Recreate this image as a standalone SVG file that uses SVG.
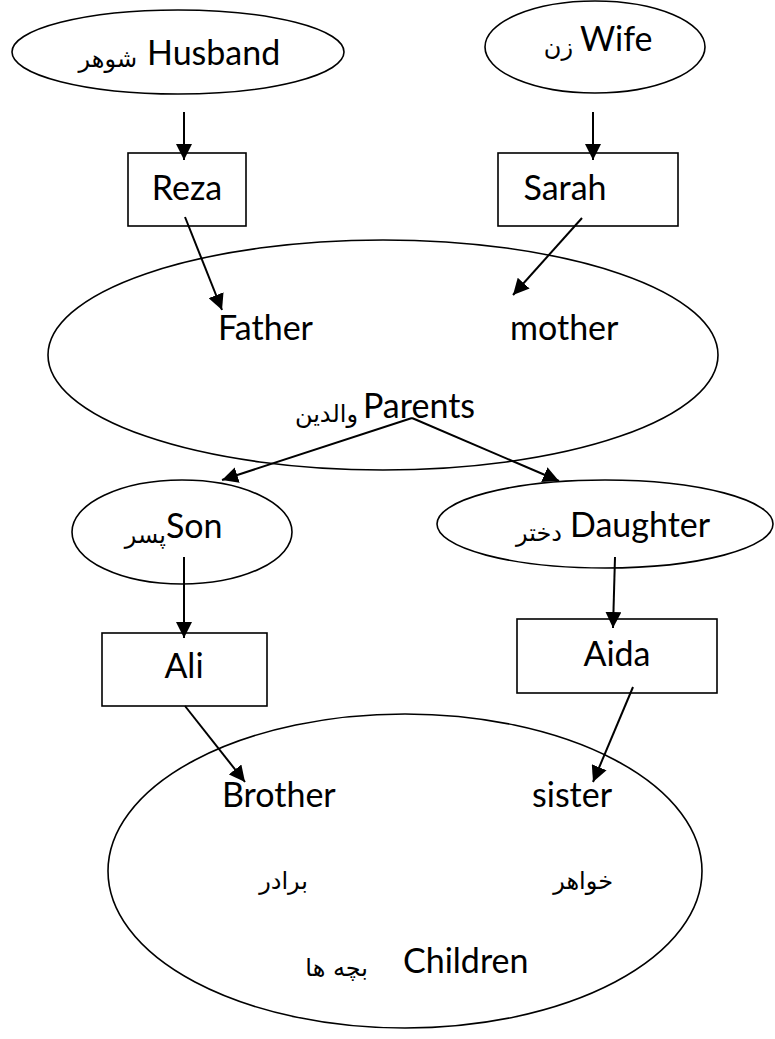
<svg xmlns="http://www.w3.org/2000/svg" width="775" height="1039" viewBox="0 0 775 1039">
<style>
.shape{fill:none;stroke:#000;stroke-width:1.6}
.en{font-family:Lato,"Open Sans","DejaVu Sans",sans-serif;font-size:34px;fill:#000}
.ar{font-family:"DejaVu Sans",sans-serif;font-size:24px;fill:#000}
.conn line{stroke:#000;stroke-width:2}
</style>
<defs>
<marker id="ah" markerUnits="userSpaceOnUse" markerWidth="16" markerHeight="16" viewBox="0 0 16 16" refX="16" refY="8" orient="auto">
<path d="M0,0 L16,8 L0,16 z" fill="#000"/>
</marker>
</defs>
<rect width="775" height="1039" fill="#fff"/>
<g id="husband">
<ellipse class="shape" cx="178" cy="52" rx="166" ry="42"/>
<text class="ar" x="137" y="67" text-anchor="end">شوهر</text>
<text class="en" x="147" y="65">Husband</text>
</g>
<g id="wife">
<ellipse class="shape" cx="595" cy="47" rx="110" ry="46"/>
<text class="ar" x="573" y="55" text-anchor="end">زن</text>
<text class="en" x="580" y="51">Wife</text>
</g>
<g id="reza">
<rect class="shape" x="128" y="153" width="118" height="73"/>
<text class="en" x="187" y="200" text-anchor="middle">Reza</text>
</g>
<g id="sarah">
<rect class="shape" x="498" y="153" width="180" height="73"/>
<text class="en" x="565" y="200" text-anchor="middle">Sarah</text>
</g>
<g id="parents">
<ellipse class="shape" cx="383" cy="355" rx="335" ry="115"/>
<text class="en" x="218" y="340">Father</text>
<text class="en" x="510" y="340">mother</text>
<text class="ar" x="358" y="422" text-anchor="end">والدين</text>
<text class="en" x="363" y="418">Parents</text>
</g>
<g id="son">
<ellipse class="shape" cx="182" cy="532" rx="110" ry="52"/>
<text class="ar" x="166" y="543" text-anchor="end">پسر</text>
<text class="en" x="166" y="538">Son</text>
</g>
<g id="daughter">
<ellipse class="shape" cx="605" cy="524" rx="168" ry="44"/>
<text class="ar" x="562" y="541" text-anchor="end">دختر</text>
<text class="en" x="570" y="537">Daughter</text>
</g>
<g id="ali">
<rect class="shape" x="102" y="633" width="165" height="73"/>
<text class="en" x="184" y="678" text-anchor="middle">Ali</text>
</g>
<g id="aida">
<rect class="shape" x="517" y="619" width="200" height="74"/>
<text class="en" x="617" y="666" text-anchor="middle">Aida</text>
</g>
<g id="children">
<ellipse class="shape" cx="405" cy="871" rx="297" ry="157"/>
<text class="en" x="222" y="807">Brother</text>
<text class="en" x="532" y="807">sister</text>
<text class="ar" x="308" y="889" text-anchor="end">برادر</text>
<text class="ar" x="613" y="889" text-anchor="end">خواهر</text>
<text class="ar" x="368" y="976" text-anchor="end">بچه ها</text>
<text class="en" x="403" y="973">Children</text>
</g>
<g id="connectors" class="conn">
<line x1="184" y1="112" x2="184" y2="160" marker-end="url(#ah)"/>
<line x1="593" y1="112" x2="593" y2="160" marker-end="url(#ah)"/>
<line x1="185" y1="217" x2="222" y2="310" marker-end="url(#ah)"/>
<line x1="582" y1="218" x2="513" y2="295" marker-end="url(#ah)"/>
<line x1="412" y1="418" x2="222" y2="480" marker-end="url(#ah)"/>
<line x1="412" y1="418" x2="559" y2="481" marker-end="url(#ah)"/>
<line x1="184" y1="557" x2="184" y2="638" marker-end="url(#ah)"/>
<line x1="615" y1="557" x2="613" y2="628" marker-end="url(#ah)"/>
<line x1="185" y1="706" x2="245" y2="782" marker-end="url(#ah)"/>
<line x1="633" y1="687" x2="593" y2="782" marker-end="url(#ah)"/>
</g>
</svg>
